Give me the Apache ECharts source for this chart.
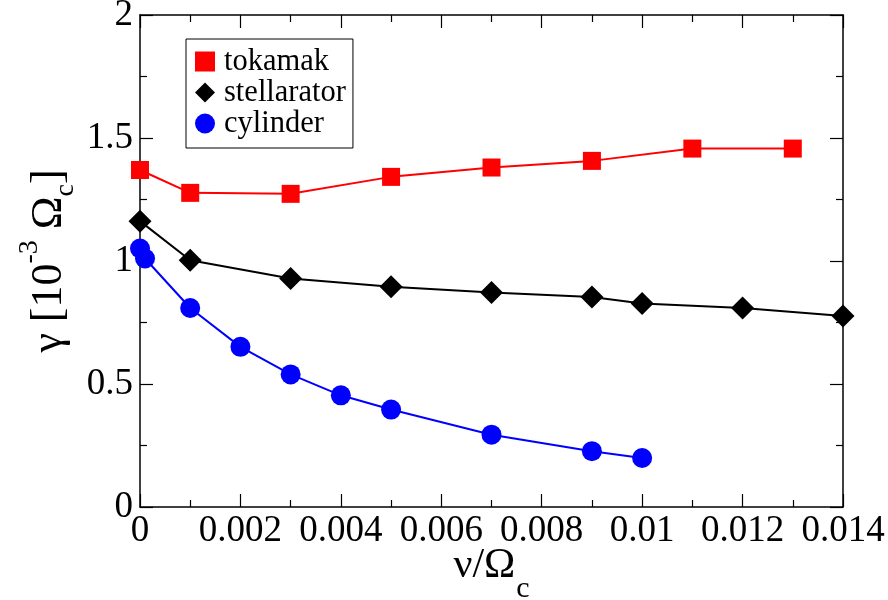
<!DOCTYPE html>
<html>
<head>
<meta charset="utf-8">
<script src="https://cdn.jsdelivr.net/npm/echarts@6/dist/echarts.min.js"></script>
<style>html,body{margin:0;padding:0;background:#fff}#c{width:888px;height:600px}</style>
</head>
<body>
<div id="c"></div>
<script>
// ---- data ----
const seriesNames = ['tokamak', 'stellarator', 'cylinder'];
const tokX = [0, 0.001, 0.003, 0.005, 0.007, 0.009, 0.011, 0.013];
const tokY = [1.37, 1.277, 1.273, 1.342, 1.38, 1.407, 1.457, 1.457];
const stelX = [0, 0.001, 0.003, 0.005, 0.007, 0.009, 0.010, 0.012, 0.014];
const stelY = [1.162, 1.003, 0.929, 0.895, 0.872, 0.854, 0.827, 0.809, 0.776];
const cylX = [0, 0.0001, 0.001, 0.002, 0.003, 0.004, 0.005, 0.007, 0.009, 0.010];
const cylY = [1.051, 1.01, 0.809, 0.651, 0.539, 0.454, 0.396, 0.294, 0.227, 0.199];
const xTickLabels = ['0', '0.002', '0.004', '0.006', '0.008', '0.01', '0.012', '0.014'];
const yTickLabels = ['0', '0.5', '1', '1.5', '2'];

const FONT = 'Liberation Serif';
const zip = (xs, ys) => xs.map((x, i) => [x, ys[i]]);

const chart = echarts.init(document.getElementById('c'), null, {renderer: 'canvas'});

const axisLine = {show: true, onZero: false, lineStyle: {color: '#000', width: 1.5}};
const axisTick = {show: true, inside: true, length: 13, lineStyle: {color: '#000', width: 1.2}};
const minorTick = {show: true, splitNumber: 2, length: 7, lineStyle: {color: '#000', width: 1.2}};

const xBase = {type: 'value', min: 0, max: 0.014, interval: 0.002,
  axisLine, axisTick, minorTick, splitLine: {show: false}, minorSplitLine: {show: false}};
const yBase = {type: 'value', min: 0, max: 2, interval: 0.5,
  axisLine, axisTick, minorTick, splitLine: {show: false}, minorSplitLine: {show: false}};

chart.setOption({
  animation: false,
  backgroundColor: '#fff',
  grid: {left: 140, right: 45, top: 15, bottom: 93, containLabel: false, outerBoundsMode: 'none'},
  legend: {
    orient: 'vertical', left: 186, top: 39,
    data: [
      {name: seriesNames[0], icon: 'rect'},
      {name: seriesNames[1], icon: 'diamond'},
      {name: seriesNames[2], icon: 'circle'}
    ],
    itemWidth: 20, itemHeight: 20, itemGap: 0,
    padding: [7, 7, 9, 9],
    borderColor: '#000', borderWidth: 1, backgroundColor: '#fff',
    textStyle: {fontFamily: FONT, fontSize: 30.5, color: '#000', lineHeight: 27.5, padding: [0, 0, 0, 4]}
  },
  xAxis: [
    Object.assign({}, xBase, {
      position: 'bottom',
      axisLabel: {fontFamily: FONT, fontSize: 37, color: '#000', margin: 6,
        formatter: v => xTickLabels[Math.round(v / 0.002)]},
      name: '{a|ν/Ω}{b|c}', nameLocation: 'middle', nameGap: 38, nameMoveOverlap: false,
      nameTextStyle: {rich: {
        a: {fontFamily: FONT, fontSize: 42, color: '#000', lineHeight: 42, verticalAlign: 'top'},
        b: {fontFamily: FONT, fontSize: 30, color: '#000', lineHeight: 30, verticalAlign: 'top', padding: [29, 0, 0, 1]}
      }}
    }),
    Object.assign({}, xBase, {position: 'top', axisLabel: {show: false}})
  ],
  yAxis: [
    Object.assign({}, yBase, {
      position: 'left',
      axisLabel: {fontFamily: FONT, fontSize: 37, color: '#000', margin: 7,
        formatter: v => yTickLabels[Math.round(v / 0.5)]},
      name: '{g|γ [10}{sup|-3}{g| Ω}{sub|c}{g|]}', nameLocation: 'middle', nameGap: 68, nameRotate: 90,
      nameMoveOverlap: false,
      nameTextStyle: {rich: {
        g: {fontFamily: FONT, fontSize: 44, color: '#000', lineHeight: 46, verticalAlign: 'middle'},
        sup: {fontFamily: FONT, fontSize: 28, color: '#000', lineHeight: 28, verticalAlign: 'middle', padding: [10, 0, 48, 0]},
        sub: {fontFamily: FONT, fontSize: 28, color: '#000', lineHeight: 28, verticalAlign: 'middle', padding: [34, 0, 0, 0]}
      }}
    }),
    Object.assign({}, yBase, {position: 'right', axisLabel: {show: false}})
  ],
  series: [
    {name: seriesNames[0], type: 'line', data: zip(tokX, tokY), clip: false,
      symbol: 'rect', symbolSize: 18,
      lineStyle: {color: '#ff0000', width: 2}, itemStyle: {color: '#ff0000'}},
    {name: seriesNames[1], type: 'line', data: zip(stelX, stelY), clip: false,
      symbol: 'diamond', symbolSize: 23,
      lineStyle: {color: '#000000', width: 2}, itemStyle: {color: '#000000'}},
    {name: seriesNames[2], type: 'line', data: zip(cylX, cylY), clip: false,
      symbol: 'circle', symbolSize: 20,
      lineStyle: {color: '#0000ff', width: 2}, itemStyle: {color: '#0000ff'}}
  ]
});
</script>
</body>
</html>
